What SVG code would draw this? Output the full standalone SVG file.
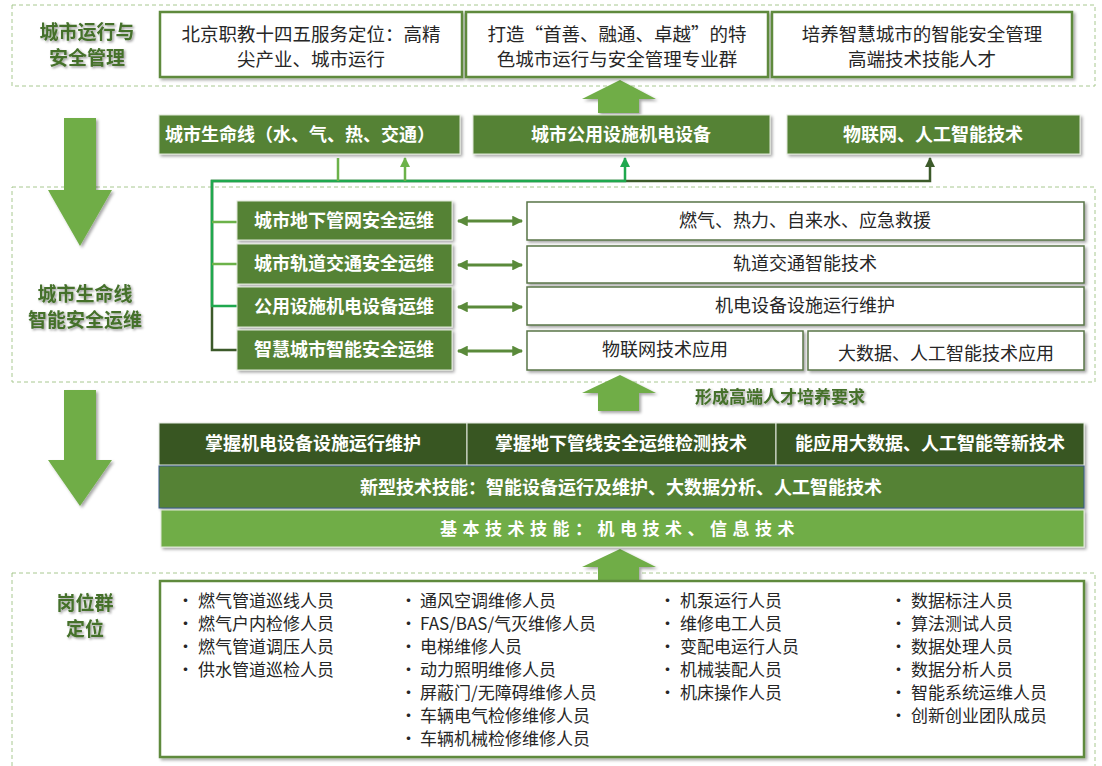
<svg xmlns="http://www.w3.org/2000/svg" width="1102" height="766" viewBox="0 0 1102 766">
<defs>
<style>
text{font-family:"Noto Sans CJK SC","Noto Sans",sans-serif;}
.sec{fill:none;stroke:#a8c890;stroke-width:1;stroke-dasharray:4 3;}
.wbox{fill:#fff;stroke:#5e8a3e;stroke-width:2.5;}
.rbox{fill:#fff;stroke:#5a7548;stroke-width:1.5;}
.gbox{fill:#548235;stroke:#dfe8d8;stroke-width:1;}
.dbox{fill:#375623;stroke:#e6ece2;stroke-width:1;}
.big{fill:#70ad47;}
.t19{font-size:18.5px;fill:#262626;text-anchor:middle;}
.t18{font-size:18px;fill:#262626;text-anchor:middle;}
.wt{font-size:18px;fill:#fff;font-weight:bold;text-anchor:middle;}
.lab{font-size:19px;fill:#44702a;font-weight:bold;text-anchor:middle;}
.li{font-size:17px;fill:#262626;}
.con{fill:none;stroke-width:2.5;}
.dbl{fill:none;stroke:#5a8a3a;stroke-width:3;}
</style>
<filter id="sh" x="-10%" y="-20%" width="120%" height="150%"><feDropShadow dx="2" dy="2" stdDeviation="1.5" flood-color="#000" flood-opacity="0.35"/></filter>
<filter id="tsh" x="-10%" y="-20%" width="120%" height="160%"><feDropShadow dx="1.5" dy="1.5" stdDeviation="1" flood-color="#000" flood-opacity="0.4"/></filter>
<marker id="aL" viewBox="0 0 10 10" refX="9" refY="5" markerWidth="4" markerHeight="4" orient="auto"><path d="M0,0 L10,5 L0,10 z" fill="#6cb24a"/></marker>
<marker id="aB" viewBox="0 0 10 10" refX="9" refY="5" markerWidth="4" markerHeight="4" orient="auto"><path d="M0,0 L10,5 L0,10 z" fill="#1fa84e"/></marker>
<marker id="aD" viewBox="0 0 10 10" refX="9" refY="5" markerWidth="4" markerHeight="4" orient="auto"><path d="M0,0 L10,5 L0,10 z" fill="#3c5a2a"/></marker>
<marker id="aM" viewBox="0 0 10 10" refX="9" refY="5" markerWidth="4" markerHeight="3.6" orient="auto-start-reverse"><path d="M0,0 L10,5 L0,10 z" fill="#5a8a3a"/></marker>
</defs>
<rect width="1102" height="766" fill="#fff"/>

<!-- sections -->
<g id="sections">
<rect class="sec" x="12" y="5" width="1083" height="81"/>
<rect class="sec" x="12" y="187" width="1083" height="195"/>
<rect class="sec" x="12" y="573" width="1083" height="200"/>
</g>

<!-- big arrows -->
<g id="big-arrows" filter="url(#sh)">
<polygon class="big" points="64,118 96,118 96,190 112,190 80,246 48,190 64,190"/>
<polygon class="big" points="64,390 96,390 96,460 112,460 80,506 48,460 64,460"/>
<polygon class="big" points="620,80 656,99 639,99 639,113 598,113 598,99 582,99"/>
<polygon class="big" points="620,375 656,393 639,393 639,411 598,411 598,393 582,393"/>
<polygon class="big" points="620,549 656,567 639,567 639,583 598,583 598,567 582,567"/>
</g>

<!-- labels -->
<g id="labels" filter="url(#tsh)">
<text class="lab" x="87" y="39"><tspan x="87" y="39">城市运行与</tspan><tspan x="87" y="65">安全管理</tspan></text>
<text class="lab" x="85" y="301"><tspan x="85" y="301">城市生命线</tspan><tspan x="85" y="327">智能安全运维</tspan></text>
<text class="lab" x="85" y="610"><tspan x="85" y="610">岗位群</tspan><tspan x="85" y="636">定位</tspan></text>
<text x="780" y="403" style="font-size:17px;font-weight:bold;fill:#44702a;text-anchor:middle">形成高端人才培养要求</text>
</g>

<!-- top boxes -->
<g id="top1"><rect class="wbox" x="160" y="12" width="302" height="65" filter="url(#sh)"/><text class="t19" x="311" y="41"><tspan x="311" y="41">北京职教十四五服务定位：高精</tspan><tspan x="311" y="66">尖产业、城市运行</tspan></text></g>
<g id="top2"><rect class="wbox" x="466" y="12" width="302" height="65" filter="url(#sh)"/><text class="t19" x="617" y="41"><tspan x="617" y="41">打造“首善、融通、卓越”的特</tspan><tspan x="617" y="66">色城市运行与安全管理专业群</tspan></text></g>
<g id="top3"><rect class="wbox" x="772" y="12" width="300" height="65" filter="url(#sh)"/><text class="t19" x="922" y="41"><tspan x="922" y="41">培养智慧城市的智能安全管理</tspan><tspan x="922" y="66">高端技术技能人才</tspan></text></g>

<!-- row 2 -->
<g id="r2a"><rect class="gbox" x="159" y="115" width="301" height="39" filter="url(#sh)"/><text class="wt" x="300" y="141">城市生命线（水、气、热、交通）</text></g>
<g id="r2b"><rect class="gbox" x="473" y="115" width="297" height="39" filter="url(#sh)"/><text class="wt" x="621" y="141">城市公用设施机电设备</text></g>
<g id="r2c"><rect class="gbox" x="787" y="115" width="293" height="39" filter="url(#sh)"/><text class="wt" x="933" y="141">物联网、人工智能技术</text></g>

<!-- connectors -->
<g id="connectors">
<path class="con" d="M237,350 H212 V181 H930 V158" stroke="#3c5a2a" marker-end="url(#aD)"/>
<path class="con" d="M237,306 H212 V181 H625 V158" stroke="#1fa84e" marker-end="url(#aB)"/>
<path class="con" d="M212,222 H237 M212,264 H237" stroke="#6cb24a"/>
<path class="con" d="M338,181 V158 M405,181 V158" stroke="#6cb24a" marker-end="url(#aL)"/>
<path class="dbl" d="M458,221 H522" marker-start="url(#aM)" marker-end="url(#aM)"/>
<path class="dbl" d="M458,265 H522" marker-start="url(#aM)" marker-end="url(#aM)"/>
<path class="dbl" d="M458,307 H522" marker-start="url(#aM)" marker-end="url(#aM)"/>
<path class="dbl" d="M458,351 H522" marker-start="url(#aM)" marker-end="url(#aM)"/>
</g>

<!-- section 2 left boxes -->
<g id="s2a"><rect class="gbox" x="237" y="201" width="215" height="39" filter="url(#sh)"/><text class="wt" x="344" y="227">城市地下管网安全运维</text></g>
<g id="s2b"><rect class="gbox" x="237" y="244" width="215" height="40" filter="url(#sh)"/><text class="wt" x="344" y="270">城市轨道交通安全运维</text></g>
<g id="s2c"><rect class="gbox" x="237" y="287" width="215" height="40" filter="url(#sh)"/><text class="wt" x="344" y="313">公用设施机电设备运维</text></g>
<g id="s2d"><rect class="gbox" x="237" y="330" width="215" height="40" filter="url(#sh)"/><text class="wt" x="344" y="356">智慧城市智能安全运维</text></g>

<!-- section 2 right boxes -->
<g id="s2r1"><rect class="rbox" x="527" y="202" width="557" height="38" filter="url(#sh)"/><text class="t18" x="805" y="227">燃气、热力、自来水、应急救援</text></g>
<g id="s2r2"><rect class="rbox" x="527" y="246" width="557" height="37" filter="url(#sh)"/><text class="t18" x="805" y="270">轨道交通智能技术</text></g>
<g id="s2r3"><rect class="rbox" x="527" y="287" width="557" height="38" filter="url(#sh)"/><text class="t18" x="805" y="312">机电设备设施运行维护</text></g>
<g id="s2r4"><rect class="rbox" x="527" y="331" width="276" height="39" filter="url(#sh)"/><text class="t18" x="665" y="356">物联网技术应用</text></g>
<g id="s2r5"><rect class="rbox" x="808" y="331" width="276" height="39" filter="url(#sh)"/><text class="t18" x="946" y="360">大数据、人工智能技术应用</text></g>

<!-- section 3 -->
<g id="s3a"><rect class="dbox" x="159" y="423" width="308" height="42" filter="url(#sh)"/><text class="wt" x="313" y="450">掌握机电设备设施运行维护</text></g>
<g id="s3b"><rect class="dbox" x="467" y="423" width="309" height="42" filter="url(#sh)"/><text class="wt" x="621" y="450">掌握地下管线安全运维检测技术</text></g>
<g id="s3c"><rect class="dbox" x="776" y="423" width="308" height="42" filter="url(#sh)"/><text class="wt" x="930" y="450">能应用大数据、人工智能等新技术</text></g>
<g id="s3d"><rect x="159" y="466" width="925" height="42" fill="#548235" stroke="#3b5a8a" stroke-width="1" filter="url(#sh)"/><text class="wt" x="621" y="494">新型技术技能：智能设备运行及维护、大数据分析、人工智能技术</text></g>
<g id="s3e"><rect x="161" y="510" width="923" height="37" fill="#70ad47" stroke="#e0ead8" stroke-width="1" filter="url(#sh)"/><text class="wt" x="620" y="535" style="font-size:17px;letter-spacing:5.5px">基本技术技能：机电技术、信息技术</text></g>

<!-- jobs box -->
<g id="jobs">
<rect x="160" y="581" width="924" height="176" fill="#fff" stroke="#5e8a3e" stroke-width="2.5" filter="url(#sh)"/>
<g class="li">
<text x="177" y="607">•</text><text x="198" y="607">燃气管道巡线人员</text>
<text x="177" y="630">•</text><text x="198" y="630">燃气户内检修人员</text>
<text x="177" y="653">•</text><text x="198" y="653">燃气管道调压人员</text>
<text x="177" y="676">•</text><text x="198" y="676">供水管道巡检人员</text>

<text x="400" y="607">•</text><text x="420" y="607">通风空调维修人员</text>
<text x="400" y="630">•</text><text x="420" y="630">FAS/BAS/气灭维修人员</text>
<text x="400" y="653">•</text><text x="420" y="653">电梯维修人员</text>
<text x="400" y="676">•</text><text x="420" y="676">动力照明维修人员</text>
<text x="400" y="699">•</text><text x="420" y="699">屏蔽门/无障碍维修人员</text>
<text x="400" y="722">•</text><text x="420" y="722">车辆电气检修维修人员</text>
<text x="400" y="745">•</text><text x="420" y="745">车辆机械检修维修人员</text>

<text x="659" y="607">•</text><text x="680" y="607">机泵运行人员</text>
<text x="659" y="630">•</text><text x="680" y="630">维修电工人员</text>
<text x="659" y="653">•</text><text x="680" y="653">变配电运行人员</text>
<text x="659" y="676">•</text><text x="680" y="676">机械装配人员</text>
<text x="659" y="699">•</text><text x="680" y="699">机床操作人员</text>

<text x="890" y="607">•</text><text x="911" y="607">数据标注人员</text>
<text x="890" y="630">•</text><text x="911" y="630">算法测试人员</text>
<text x="890" y="653">•</text><text x="911" y="653">数据处理人员</text>
<text x="890" y="676">•</text><text x="911" y="676">数据分析人员</text>
<text x="890" y="699">•</text><text x="911" y="699">智能系统运维人员</text>
<text x="890" y="722">•</text><text x="911" y="722">创新创业团队成员</text>
</g>
</g>
</svg>
